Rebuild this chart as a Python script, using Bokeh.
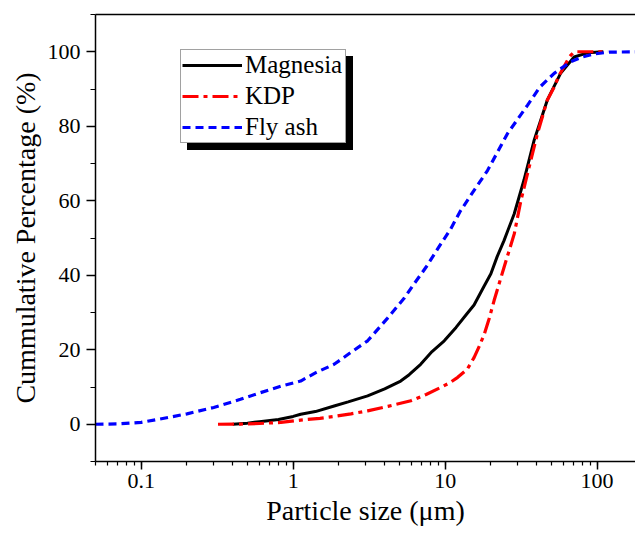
from bokeh.plotting import figure
from bokeh.models import (Range1d, LogAxis, Legend, LegendItem, SingleIntervalTicker,
                          FixedTicker, CustomJSTickFormatter)
from bokeh.embed import file_html
from bokeh.resources import INLINE

# ---- data ----
mag_d = [0.4, 0.5, 0.6, 0.8, 1.0, 1.12, 1.4, 1.86, 2.3, 3.09, 4.0, 5.1, 5.8, 6.9, 8.2,
         9.87, 11.8, 14.0, 15.5, 18.0, 20.0, 22.0, 24.4, 28.5, 33.0, 38.5, 47.0, 57.5,
         70.6, 86.5, 110.0]
mag_v = [0, 0.3, 0.7, 1.3, 2.1, 2.7, 3.4, 4.9, 6.0, 7.6, 9.5, 11.6, 13.3, 16.1, 19.5,
         22.4, 26.0, 29.8, 32.0, 37.0, 40.4, 45.0, 49.3, 56.5, 65.5, 76.2, 87.0, 94.2,
         98.6, 99.7, 100]

kdp_d = [0.32, 0.45, 0.6, 0.83, 1.12, 1.5, 1.86, 2.4, 3.09, 4.2, 5.95, 7.5, 9.37, 10.8,
         12.1, 14.0, 15.5, 16.8, 18.1, 19.5, 21.0, 24.4, 28.5, 31.5, 35.7, 40.5, 47.0,
         52.2, 56.0, 60.5, 64.0, 67.0, 70.0, 74.0, 85.0, 100.0, 117.0]
kdp_v = [0, 0.05, 0.2, 0.5, 1.1, 1.6, 2.1, 2.8, 3.6, 4.8, 6.3, 8.0, 9.9, 11.2,
         12.6, 14.8, 17.9, 21.0, 24.2, 28.4, 33.2, 42.1, 51.1, 60.0, 69.0, 78.0, 87.0,
         90.5, 93.5, 96.0, 97.8, 99.0, 99.8, 100, 100, 100, 100]

fly_d = [0.05, 0.07, 0.1, 0.15, 0.2, 0.3, 0.45, 0.6, 0.83, 1.12, 1.4, 1.86, 2.4, 3.09,
         4.18, 5.37, 6.25, 7.5, 9.37, 10.9, 12.5, 15.5, 19.0, 25.7, 34.8, 42.0, 52.2,
         67.0, 80.0, 95.6, 120.0, 200.0]
fly_v = [0, 0.1, 0.5, 1.8, 2.8, 4.5, 6.7, 8.4, 10.2, 11.6, 13.8, 16.1, 19.3, 22.4,
         28.5, 33.8, 37.7, 42.2, 48.4, 52.5, 57.0, 62.8, 68.1, 78.0, 85.6, 90.5, 94.2,
         97.3, 98.6, 99.4, 99.9, 100]

series_names = ["Magnesia", "KDP", "Fly ash"]
x_label = "Particle size (\u03bcm)"
y_label = "Cummulative Percentage (%)"

SERIF = "'Liberation Serif', 'Times New Roman', serif"

p = figure(width=635, height=534, x_axis_type="log",
           x_range=Range1d(0.05, 179), y_range=Range1d(-10, 110),
           output_backend="svg", toolbar_location=None,
           min_border_left=95, min_border_right=0, min_border_top=14, min_border_bottom=73)
p.xgrid.visible = False
p.ygrid.visible = False
p.outline_line_color = None
p.background_fill_color = "white"
p.border_fill_color = "white"

r_mag = p.line(mag_d, mag_v, line_color="black", line_width=3)
r_kdp = p.line(kdp_d, kdp_v, line_color="#ff0000", line_width=3.2, line_dash="16 5 4 5")
r_fly = p.line(fly_d, fly_v, line_color="#0000ff", line_width=3.2, line_dash="8 5")

# axes styling
for ax in (p.xaxis[0], p.yaxis[0]):
    ax.axis_line_color = "black"
    ax.axis_line_width = 1.5
    ax.major_tick_line_color = "black"
    ax.minor_tick_line_color = "black"
    ax.major_tick_line_width = 1.5
    ax.minor_tick_line_width = 1.2
    ax.major_tick_in = 0
    ax.minor_tick_in = 0
    ax.major_label_text_font = SERIF
    ax.major_label_text_font_size = "22px"
    ax.major_label_text_color = "black"
    ax.axis_label_text_font = SERIF
    ax.axis_label_text_font_style = "normal"
    ax.axis_label_text_font_size = "28px"
    ax.axis_label_text_color = "black"

p.xaxis[0].major_tick_out = 8
p.xaxis[0].minor_tick_out = 4
p.xaxis[0].major_label_standoff = 4
p.xaxis[0].axis_label_standoff = 4
p.xaxis[0].axis_label = x_label
p.xaxis[0].formatter = CustomJSTickFormatter(code="return parseFloat(tick.toPrecision(6)).toString();")

p.yaxis[0].ticker = SingleIntervalTicker(interval=20, num_minor_ticks=2)
p.yaxis[0].major_tick_out = 9
p.yaxis[0].minor_tick_out = 5
p.yaxis[0].major_label_standoff = 6
p.yaxis[0].axis_label_standoff = 4
p.yaxis[0].axis_label = y_label

top_axis = LogAxis(ticker=FixedTicker(ticks=[]), axis_line_color="black", axis_line_width=1.5,
                   major_tick_line_color=None, minor_tick_line_color=None)
p.add_layout(top_axis, "above")

# legend shadow (black box behind the legend)
s_rs = [p.line([], [], line_color="black", line_width=3) for _ in series_names]
leg_common = dict(label_text_font=SERIF, label_text_font_size="25px",
                  glyph_width=60, glyph_height=28, label_height=28, label_width=99,
                  label_standoff=3, spacing=3, padding=1, margin=0, border_line_width=1)
shadow = Legend(items=[LegendItem(label=" ", renderers=[r]) for r in s_rs],
                location=(92, 311), background_fill_color="black", background_fill_alpha=1,
                border_line_color="black", label_text_color="black", **leg_common)
p.add_layout(shadow)

legend = Legend(items=[LegendItem(label=n, renderers=[r]) for n, r in
                       zip(series_names, [r_mag, r_kdp, r_fly])],
                location=(85, 318), background_fill_color="white", background_fill_alpha=1,
                border_line_color="#444444", label_text_color="black", **leg_common)
p.add_layout(legend)

open("out.html", "w").write(file_html(p, INLINE))
